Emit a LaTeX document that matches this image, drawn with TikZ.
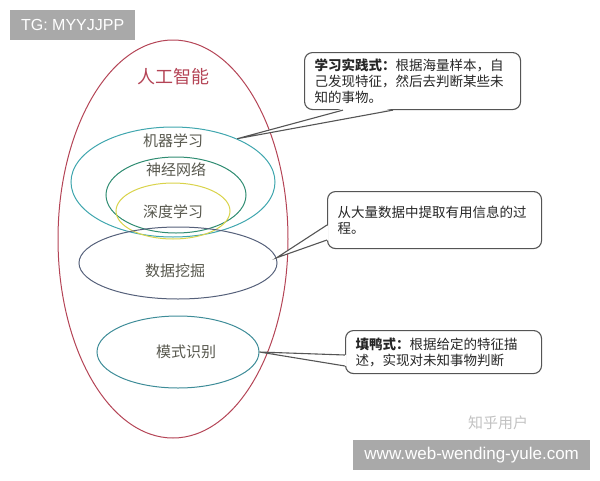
\documentclass[tikz,border=0pt]{standalone}
\usepackage{fontspec}
\setmainfont{Noto Sans CJK SC}
\newfontfamily\latinsans{Liberation Sans}
\usetikzlibrary{shapes.geometric,calc}
\definecolor{aired}{HTML}{B44456}
\definecolor{mlteal}{HTML}{3FA6AE}
\definecolor{nngreen}{HTML}{2F8C72}
\definecolor{dlyellow}{HTML}{D9D34A}
\definecolor{dmslate}{HTML}{55607A}
\definecolor{prteal}{HTML}{3E8C98}
\definecolor{labelgray}{HTML}{58584E}
\definecolor{calloutgray}{HTML}{555555}
\definecolor{boxgray}{HTML}{A9A9A9}
\definecolor{wmgray}{HTML}{C2C2C2}
\begin{document}
\begin{tikzpicture}[x=1pt,y=-1pt,
  ring/.style={draw, ellipse, inner sep=0pt, line width=1pt},
  lbl/.style={text=labelgray, font=\fontsize{15}{15}\selectfont, inner sep=0pt},
  callout/.style={draw=calloutgray, fill=white, rounded corners=8pt, line width=1.1pt,
    inner xsep=10pt, inner ysep=0pt, align=left, anchor=north west,
    font=\fontsize{13.5}{16}\selectfont, text=black!85},
  wedgeline/.style={draw=calloutgray, line width=1.1pt},
  graybox/.style={fill=boxgray, text=white, anchor=north west, inner sep=0pt}
]
\useasboundingbox (0,0) rectangle (600,480);

% ellipses
\node[ring, draw=aired, minimum width=230pt, minimum height=398pt] (ai) at (173,239) {};
\node[ring, draw=mlteal, minimum width=204pt, minimum height=110pt] (ml) at (173,182) {};
\node[ring, draw=nngreen, minimum width=140pt, minimum height=76pt] (nn) at (176,195) {};
\node[ring, draw=dlyellow, minimum width=114pt, minimum height=56pt] (dl) at (173,211) {};
\node[ring, draw=dmslate, minimum width=198pt, minimum height=72pt] (dm) at (178,263) {};
\node[ring, draw=prteal, minimum width=162pt, minimum height=72pt] (pr) at (178,352) {};

% labels
\node[lbl, text=aired, font=\fontsize{18}{18}\selectfont] (tai) at (173,77) {人工智能};
\node[lbl] (tml) at (173,141) {机器学习};
\node[lbl] (tnn) at (176,170) {神经网络};
\node[lbl] (tdl) at (173,212) {深度学习};
\node[lbl] (tdm) at (175,271) {数据挖掘};
\node[lbl] (tpr) at (186,352) {模式识别};

% callouts
\node[callout, text width=196pt, minimum height=57pt] (b1) at (304,52)
  {\textbf{学习实践式：}根据海量样本，自\\己发现特征，然后去判断某些未\\知的事物。};
\node[callout, text width=194pt, minimum height=57pt] (b2) at (327,191)
  {从大量数据中提取有用信息的过\\程。};
\node[callout, text width=176pt, minimum height=43pt] (b3) at (345,330)
  {\textbf{填鸭式：}根据给定的特征描\\述，实现对未知事物判断};

% wedge 1
\coordinate (w1a) at ($(b1.south west)+(39,0)$);
\coordinate (w1b) at ($(b1.south west)+(89,0)$);
\coordinate (w1t) at (ml.34);
\fill[white] ($(w1a)+(0,-1.5)$) -- (w1t) -- ($(w1b)+(0,-1.5)$) -- cycle;
\draw[wedgeline] (w1a) -- (w1t) -- (w1b);

% wedge 2
\coordinate (w2a) at ($(b2.north west)+(0,34)$);
\coordinate (w2b) at ($(b2.north west)+(0,49)$);
\coordinate (w2t) at (dm.3);
\fill[white] ($(w2a)+(1.5,0)$) -- (w2t) -- ($(w2b)+(1.5,0)$) -- cycle;
\draw[wedgeline] (w2a) -- (w2t) -- (w2b);

% wedge 3
\coordinate (w3a) at ($(b3.north west)+(0,25)$);
\coordinate (w3b) at ($(b3.north west)+(0,36)$);
\coordinate (w3t) at (pr.east);
\fill[white] ($(w3a)+(1.5,0)$) -- (w3t) -- ($(w3b)+(1.5,0)$) -- cycle;
\draw[wedgeline] (w3a) -- (w3t) -- (w3b);

% watermarks
\node[text=wmgray, font=\fontsize{15}{15}\selectfont, inner sep=0pt] (wm) at (498,423) {知乎用户};
\node[graybox, minimum width=125pt, minimum height=30pt, font=\latinsans\fontsize{16}{16}\selectfont] (tg) at (10,10) {TG: MYYJJPP};
\node[graybox, minimum width=237pt, minimum height=30pt, font=\latinsans\fontsize{17}{17}\selectfont] (url) at (353,440) {www.web-wending-yule.com};
\end{tikzpicture}
\end{document}
